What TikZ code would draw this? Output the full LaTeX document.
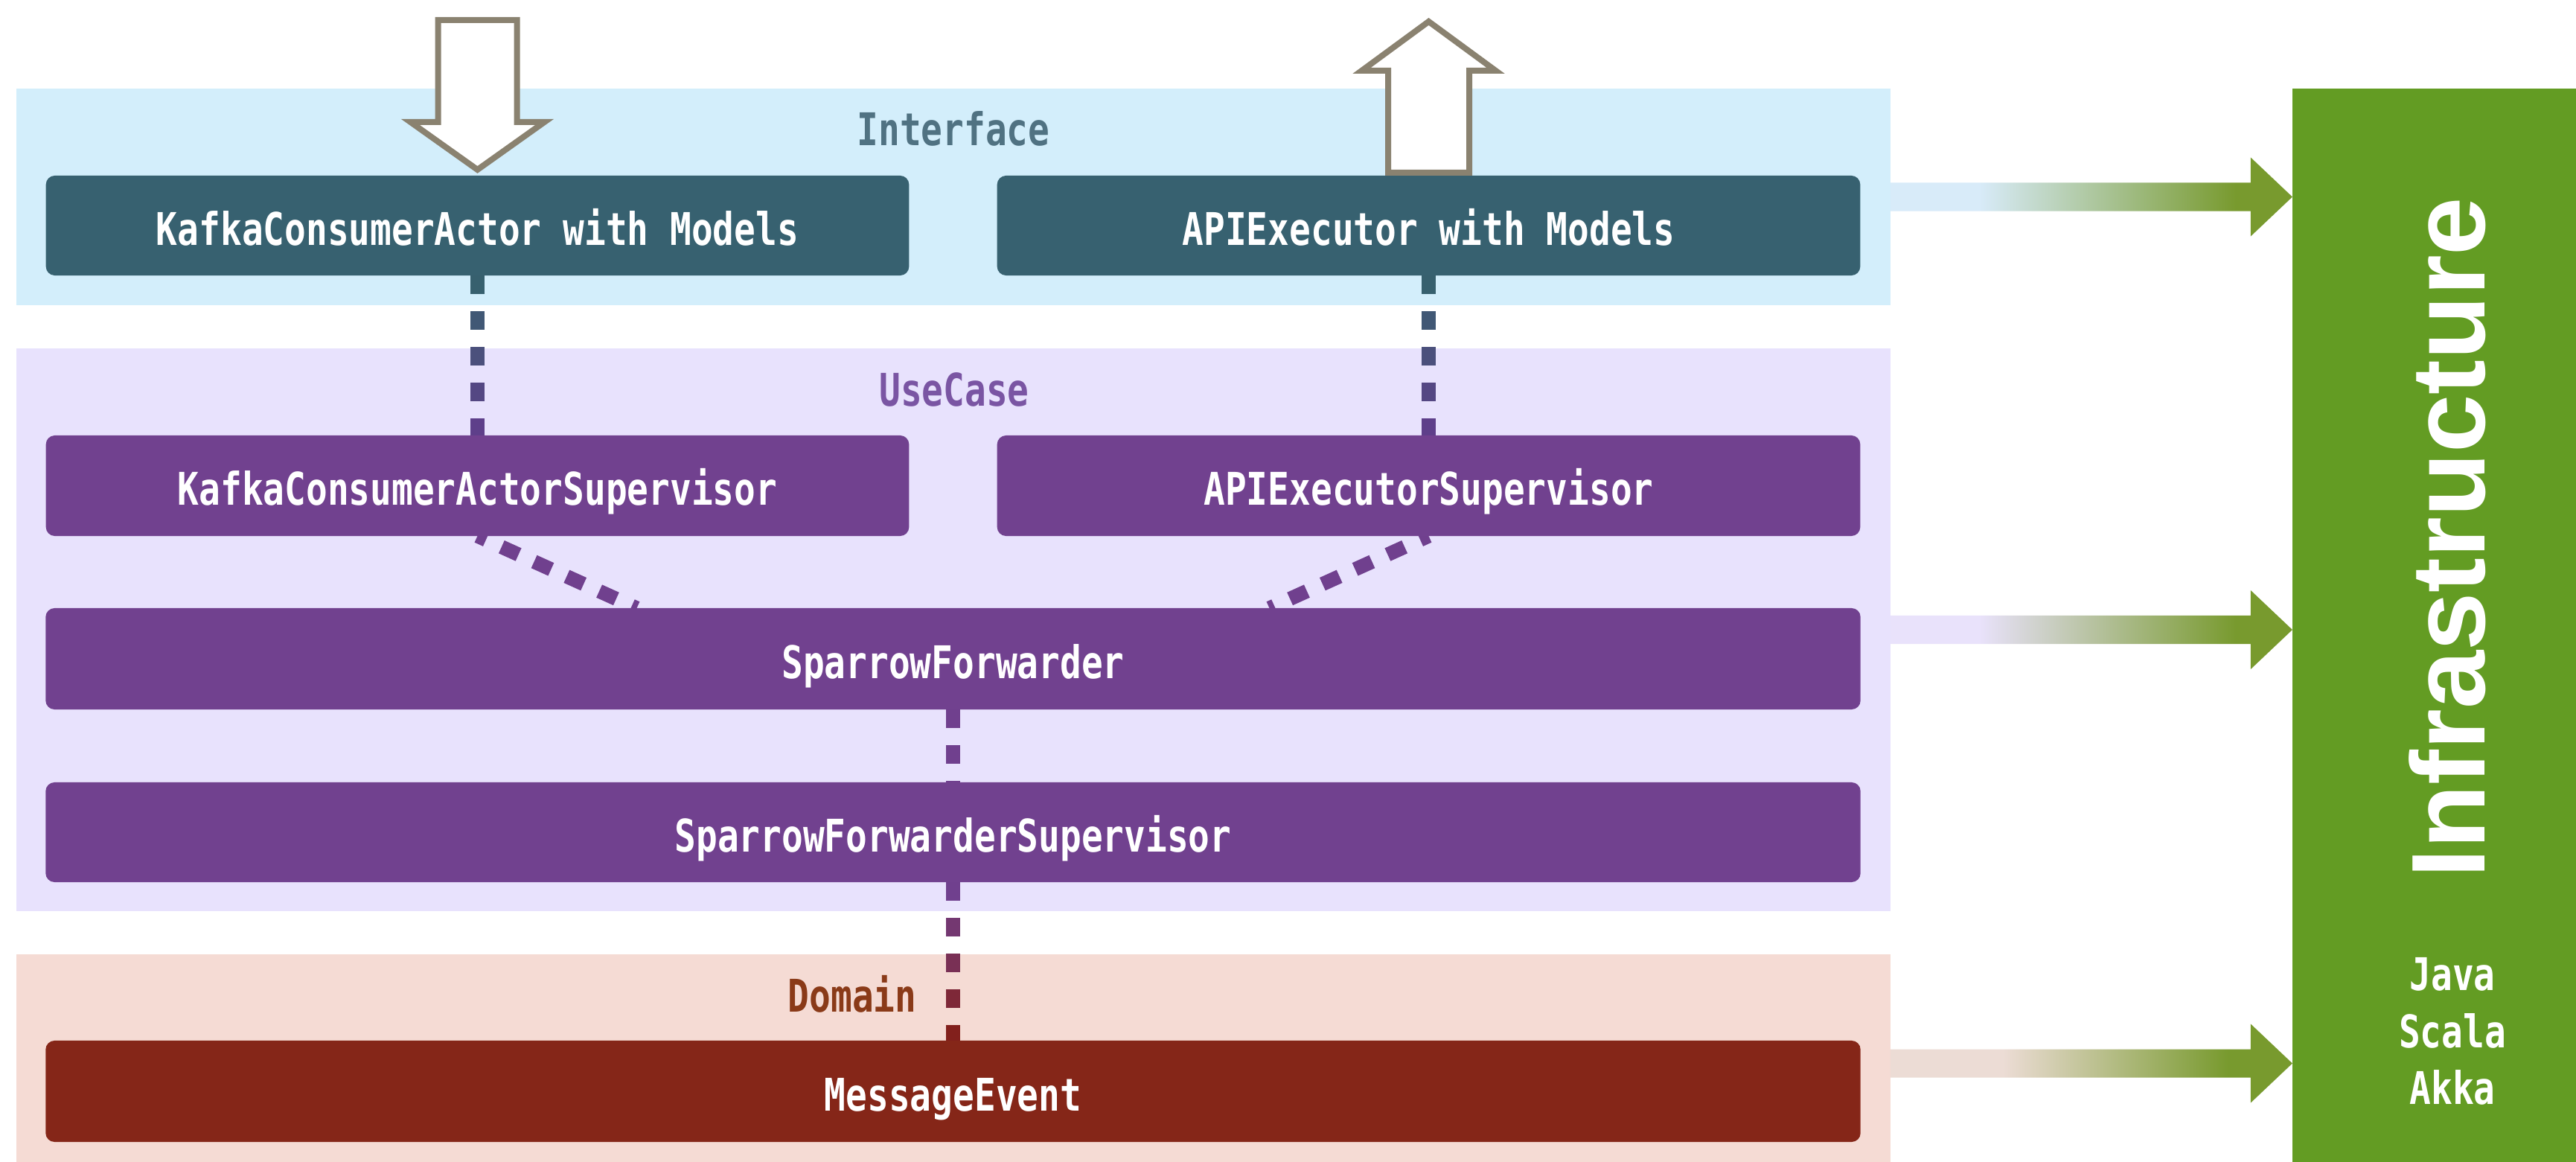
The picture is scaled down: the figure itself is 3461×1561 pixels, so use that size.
\documentclass[tikz,border=0pt]{standalone}
\usepackage{fontspec}
\usetikzlibrary{calc}
\newfontfamily\labelmono[FakeStretch=0.79]{DejaVu Sans Mono}
\newfontfamily\infrafont{Liberation Sans}
\newcommand\labelfont{\labelmono\bfseries\fontsize{17.2pt}{20pt}\selectfont}

\definecolor{ifaceband}{HTML}{D3EEFB}
\definecolor{ucband}{HTML}{E8E2FD}
\definecolor{domband}{HTML}{F5DBD4}
\definecolor{ifacebox}{HTML}{376170}
\definecolor{ucbox}{HTML}{71418F}
\definecolor{dombox}{HTML}{852618}
\definecolor{ifacetitle}{HTML}{507282}
\definecolor{uctitle}{HTML}{7A55A3}
\definecolor{domtitle}{HTML}{8A3A18}
\definecolor{infragreen}{HTML}{639C23}
\definecolor{arrowgreen}{HTML}{789A2E}
\definecolor{ifacearrow}{HTML}{D8EBF9}
\definecolor{ucarrow}{HTML}{E9E2FB}
\definecolor{domarrow}{HTML}{ECDCD5}
\definecolor{ioedge}{HTML}{8A8270}
\definecolor{linkteal}{HTML}{37606E}
\definecolor{linkviolet}{HTML}{5E3F8A}
\definecolor{linkpurple}{HTML}{70408E}
\definecolor{linkbrown}{HTML}{82201C}

% horizontal fades from the layer colour into the infrastructure green
\pgfdeclarehorizontalshading{ifaceflow}{100bp}{color(0bp)=(ifacearrow); color(36bp)=(ifacearrow); color(68bp)=(arrowgreen); color(100bp)=(arrowgreen)}
\pgfdeclarehorizontalshading{ucflow}{100bp}{color(0bp)=(ucarrow); color(36bp)=(ucarrow); color(68bp)=(arrowgreen); color(100bp)=(arrowgreen)}
\pgfdeclarehorizontalshading{domflow}{100bp}{color(0bp)=(domarrow); color(39bp)=(domarrow); color(67bp)=(arrowgreen); color(100bp)=(arrowgreen)}

\pgfdeclarelayer{bands}
\pgfdeclarelayer{links}
\pgfsetlayers{bands,links,main}

\tikzset{
  band/.style={inner sep=0pt, outer sep=0pt, draw=none},
  layerbox/.style={rounded corners=0.12cm, inner sep=0pt, outer sep=0pt,
    text=white, font=\labelfont, text height=0.52cm, text depth=0pt},
  title/.style={anchor=base, font=\labelfont, inner sep=0pt},
  link/.style={line width=0.19cm},
  dashedlink/.style={link, color=linkpurple, dash pattern=on 0.25cm off 0.23cm},
  ioarrow/.style={draw=ioedge, fill=white, line width=0.08cm, miter limit=10},
}

% dashed link whose dashes blend from one colour into another
\newcommand\gradlink[5]{%
  \foreach \k in {0,...,#5}{%
    \pgfmathsetlengthmacro\dfrom{\k*0.48cm}%
    \pgfmathsetlengthmacro\dto{\k*0.48cm+0.25cm}%
    \pgfmathtruncatemacro\mix{100-100*\k/#5}%
    \draw[link, color=#3!\mix!#4] ($(#1)!\dfrom!(#2)$) -- ($(#1)!\dto!(#2)$);
  }}

% wide arrow from a layer band to the infrastructure column
\newcommand\flowarrow[2]{%
  \shade[shading=#2] let \p1=(#1.east), \p2=(infra.west) in
    (\x1,{\y1+0.19cm}) -- ({\x2-0.56cm},{\y1+0.19cm}) -- ({\x2-0.56cm},{\y1+0.53cm})
    -- (\x2,\y1) -- ({\x2-0.56cm},{\y1-0.53cm}) -- ({\x2-0.56cm},{\y1-0.19cm})
    -- (\x1,{\y1-0.19cm}) -- cycle;}

\begin{document}
\begin{tikzpicture}[x=0.01cm, y=-0.01cm]
\useasboundingbox (0,0) rectangle (3461,1561);

\begin{pgfonlayer}{bands}
  \fill[white] (0,0) rectangle (3461,1561);
  \node[band, fill=ifaceband, minimum width=25.16cm, minimum height=2.91cm] (ifaceband) at (1281,264.5) {};
  \node[band, fill=ucband, minimum width=25.16cm, minimum height=7.56cm] (ucband) at (1281,846) {};
  \node[band, fill=domband, minimum width=25.16cm, minimum height=2.93cm] (domband) at (1281,1428.5) {};
\end{pgfonlayer}

% layer titles
\node[title, text=ifacetitle] (ifacetitle) at (1281,196) {Interface};
\node[title, text=uctitle] (uctitle) at (1282,545) {UseCase};
\node[title, text=domtitle] (domtitle) at (1145,1359) {Domain};

% components
\node[layerbox, fill=ifacebox, minimum width=11.59cm, minimum height=1.34cm] (kafka) at (641.5,303) {KafkaConsumerActor with Models};
\node[layerbox, fill=ifacebox, minimum width=11.59cm, minimum height=1.34cm] (api) at (1919.5,303) {APIExecutor with Models};
\node[layerbox, fill=ucbox, minimum width=11.59cm, minimum height=1.35cm] (kafkasup) at (641.5,652.5) {KafkaConsumerActorSupervisor};
\node[layerbox, fill=ucbox, minimum width=11.59cm, minimum height=1.35cm] (apisup) at (1919.5,652.5) {APIExecutorSupervisor};
\node[layerbox, fill=ucbox, minimum width=24.37cm, minimum height=1.36cm] (fwd) at (1280.5,885) {SparrowForwarder};
\node[layerbox, fill=ucbox, minimum width=24.37cm, minimum height=1.34cm] (fwdsup) at (1280.5,1118) {SparrowForwarderSupervisor};
\node[layerbox, fill=dombox, minimum width=24.37cm, minimum height=1.36cm] (msg) at (1280.5,1466) {MessageEvent};

% infrastructure column
\node[band, fill=infragreen, minimum width=3.9cm, minimum height=14.56cm] (infra) at (3275,847) {};
\node[rotate=90, anchor=base, inner sep=0pt, text=white,
      font=\infrafont\bfseries\fontsize{40pt}{44pt}\selectfont] (infratitle) at (3338,722) {Infrastructure};
\node[title, text=white] (java) at (3295,1330) {Java};
\node[title, text=white] (scala) at (3295,1407) {Scala};
\node[title, text=white] (akka) at (3295,1483) {Akka};

% input and output arrows
\begin{scope}[shift={(kafka.north)}]
  \draw[ioarrow] (-53,-209) -- (53,-209) -- (53,-72) -- (90,-72) -- (0,-8) -- (-90,-72) -- (-53,-72) -- cycle;
\end{scope}
\begin{scope}[shift={(api.north)}]
  \draw[ioarrow] (-54.5,-4) -- (-54.5,-141) -- (-90,-141) -- (0,-207) -- (90,-141) -- (54.5,-141) -- (54.5,-4) -- cycle;
\end{scope}

% links between components
\begin{pgfonlayer}{links}
  \gradlink{kafka.south}{kafkasup.north}{linkteal}{linkviolet}{4}
  \gradlink{api.south}{apisup.north}{linkteal}{linkviolet}{4}
  \draw[dashedlink, dash phase=0.125cm] (kafkasup.south) -- ($(fwd.north)+(-425,0)$);
  \draw[dashedlink, dash phase=0.125cm] (apisup.south) -- ($(fwd.north)+(425,0)$);
  \draw[dashedlink] (fwd.south) -- (fwdsup.north);
  \gradlink{fwdsup.south}{msg.north}{linkpurple}{linkbrown}{4}

  \flowarrow{ifaceband}{ifaceflow}
  \flowarrow{ucband}{ucflow}
  \flowarrow{domband}{domflow}
\end{pgfonlayer}
\end{tikzpicture}
\end{document}
